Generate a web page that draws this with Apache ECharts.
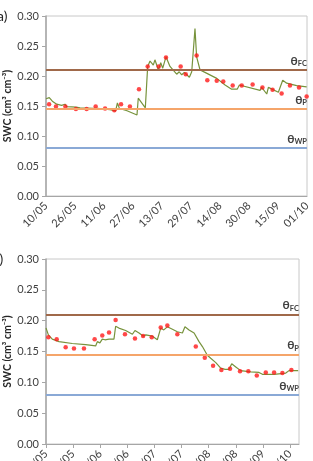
<!DOCTYPE html>
<html>
<head>
<meta charset="utf-8">
<title>SWC</title>
<script src="https://cdn.jsdelivr.net/npm/echarts@6.0.0/dist/echarts.min.js"></script>
<style>
  html, body { margin: 0; padding: 0; background: #fff; }
  #chart { width: 313px; height: 461px; }
</style>
</head>
<body>
<div id="chart"></div>
<script>
// tick labels, every 16 days from 10/05 (day 0)
var dateLabels = ['10/05', '26/05', '11/06', '27/06', '13/07', '29/07', '14/08', '30/08', '15/09', '01/10'];
var tickDays = [0, 16, 32, 48, 64, 80, 96, 112, 128, 144];

// thresholds
var thresholdValues = [0.21, 0.145, 0.08];
var thresholdNames = ['FC', 'P', 'WP'];
var thresholdColors = ['#a0694a', '#f5a56a', '#8aa9d6'];

// panel a) simulated SWC (day, value)
var simDaysA = [0, 1.8, 3.5, 5.9, 8.6, 10.5, 11.4, 16.6, 17.5, 18.8, 26.1, 27.2, 28.3, 35.3, 38.4, 39.4, 40.5, 44.7, 50.2,
  50.9, 54.8, 56.1, 57.4, 59.2, 60.1, 62, 63.3, 64.4, 66.2, 68.4, 72.1, 73.5, 74.9, 76.3, 79.1, 80.4, 81.3, 82.2, 83.1,
  85, 87.7, 94.2, 98.8, 102.4, 105.5, 106.7, 118.1, 119, 121.8, 122.7, 128.2, 130.6, 132.8, 138.3, 143.8];
var simValsA = [0.162, 0.164, 0.158, 0.153, 0.151, 0.153, 0.149, 0.148, 0.150, 0.147, 0.146, 0.149, 0.146, 0.144, 0.142, 0.155, 0.146, 0.142, 0.135,
  0.163, 0.147, 0.216, 0.225, 0.218, 0.227, 0.210, 0.222, 0.213, 0.232, 0.216, 0.203, 0.207, 0.202, 0.206, 0.198, 0.207, 0.208, 0.279, 0.232,
  0.210, 0.206, 0.196, 0.185, 0.178, 0.178, 0.185, 0.176, 0.181, 0.170, 0.181, 0.173, 0.193, 0.188, 0.184, 0.182];

// panel a) observed SWC
var obsDaysA = [1.7, 5.5, 10.7, 16.5, 22.4, 27.4, 32.6, 37.7, 41.4, 46.3, 51.3, 56.1, 62.2, 66.2, 74.3, 77.1, 83.1,
  89, 94.2, 97.8, 103, 108, 114, 119.4, 125, 130, 134.6, 139.6, 143.8];
var obsValsA = [0.153, 0.149, 0.149, 0.145, 0.145, 0.149, 0.146, 0.143, 0.153, 0.149, 0.178, 0.216, 0.216, 0.231, 0.216, 0.203, 0.234,
  0.193, 0.192, 0.191, 0.184, 0.184, 0.186, 0.181, 0.177, 0.171, 0.184, 0.181, 0.166];

// panel b) simulated SWC
var simDaysB = [0, 1.4, 3.7, 7.7, 15.5, 23.4, 29.3, 30.3, 31.8, 33.2, 34.8, 37.2, 40.1, 41.1, 43, 47, 51, 52.5, 54.9, 57.3, 58.9,
  62.7, 65.7, 67.7, 69.5, 71.6, 74.6, 77.5, 80.5, 82, 84.4, 87.4, 90.3, 92.3, 95.2, 97.2, 100.2, 103.1, 105.7, 108, 109.6,
  112, 114.9, 120.8, 125.7, 127.7, 134.6, 141.5, 143.4, 148.8];
var simValsB = [0.188, 0.177, 0.170, 0.166, 0.163, 0.161, 0.159, 0.166, 0.164, 0.170, 0.169, 0.170, 0.170, 0.191, 0.188, 0.184, 0.178, 0.184, 0.180, 0.175, 0.177,
  0.175, 0.169, 0.188, 0.185, 0.190, 0.186, 0.182, 0.180, 0.190, 0.185, 0.180, 0.166, 0.158, 0.144, 0.139, 0.132, 0.123, 0.121, 0.121, 0.130,
  0.125, 0.119, 0.117, 0.116, 0.113, 0.113, 0.115, 0.119, 0.119];

// panel b) observed SWC
var obsDaysB = [1.4, 6.3, 11.6, 16.5, 22.4, 28.7, 33.2, 37.2, 41.1, 46.6, 52.5, 57.3, 62.4, 67.7, 71.6, 77.5, 88.4,
  93.7, 98.6, 103.5, 108.6, 114.5, 119.4, 124.4, 129.7, 134.6, 139.5, 144.8];
var obsValsB = [0.173, 0.170, 0.157, 0.155, 0.155, 0.170, 0.176, 0.181, 0.201, 0.178, 0.171, 0.175, 0.173, 0.189, 0.192, 0.178, 0.158,
  0.140, 0.127, 0.120, 0.122, 0.118, 0.118, 0.111, 0.116, 0.116, 0.115, 0.120];

function pairs(xs, ys) {
  var out = [];
  for (var i = 0; i < xs.length; i++) out.push([xs[i], ys[i]]);
  return out;
}

var FONT = 'Lato, "Noto Sans", sans-serif';
var TXT = '#404040';

function thresholdLines() {
  var data = [];
  for (var i = 0; i < thresholdValues.length; i++) {
    data.push({
      yAxis: thresholdValues[i],
      lineStyle: { color: thresholdColors[i], width: 2, type: 'solid' },
      label: { formatter: '{t|θ}{s|' + thresholdNames[i] + '}' }
    });
  }
  return {
    silent: true,
    symbol: 'none',
    precision: 4,
    animation: false,
    label: {
      show: true,
      position: 'insideEndTop',
      distance: [0, 2],
      rich: {
        t: { fontFamily: FONT, fontWeight: 'bold', fontSize: 12, color: TXT, lineHeight: 14 },
        s: { fontFamily: FONT, fontWeight: 'bold', fontSize: 7.5, color: TXT, lineHeight: 14, padding: [6, 0, 0, 0] }
      }
    },
    data: data
  };
}

function xAxisDef(idx, max, ticks) {
  return {
    type: 'value', gridIndex: idx, min: 0, max: max,
    axisLine: { show: true, lineStyle: { color: '#a6a6a6', width: 1 } },
    axisTick: { show: ticks, length: 4, lineStyle: { color: '#a6a6a6' }, customValues: tickDays },
    splitLine: { show: false },
    axisLabel: {
      customValues: tickDays, rotate: 45, margin: 8, hideOverlap: false,
      fontFamily: FONT, fontSize: 11, color: TXT,
      formatter: function (v) { return dateLabels[tickDays.indexOf(v)]; }
    }
  };
}

function yAxisDef(idx) {
  return {
    type: 'value', gridIndex: idx, min: 0, max: 0.3, interval: 0.05,
    name: 'SWC (cm³ cm⁻³)', nameLocation: 'middle', nameGap: 33, nameMoveOverlap: false,
    nameTextStyle: { fontFamily: FONT, fontWeight: 'bold', fontSize: 10.5, color: '#262626' },
    axisLine: { show: true, lineStyle: { color: '#a6a6a6', width: 1.5 } },
    axisTick: { show: true, length: 4, lineStyle: { color: '#a6a6a6' } },
    splitLine: { show: false },
    axisLabel: {
      margin: 7, fontFamily: FONT, fontSize: 11, color: TXT,
      formatter: function (v) { return v.toFixed(2); }
    }
  };
}

var chart = echarts.init(document.getElementById('chart'), null, { renderer: 'canvas' });
chart.setOption({
  animation: false,
  backgroundColor: '#fff',
  graphic: [
    { type: 'text', left: -3, top: 9, style: { text: 'a)', font: '14px ' + FONT, fill: '#262626' } },
    { type: 'text', left: -8, top: 252, style: { text: 'b)', font: '14px ' + FONT, fill: '#262626' } }
  ],
  grid: [
    { left: 46, top: 16, width: 261, height: 180, show: true, borderColor: '#c8c8c8', borderWidth: 1,
      outerBoundsMode: 'none', containLabel: false },
    { left: 46, top: 259, width: 253, height: 185, show: true, borderColor: '#c8c8c8', borderWidth: 1,
      outerBoundsMode: 'none', containLabel: false }
  ],
  xAxis: [xAxisDef(0, 144, false), xAxisDef(1, 149.3, true)],
  yAxis: [yAxisDef(0), yAxisDef(1)],
  series: [
    {
      type: 'line', xAxisIndex: 0, yAxisIndex: 0, data: pairs(simDaysA, simValsA),
      symbol: 'none', lineStyle: { color: '#77933c', width: 1.2 }, z: 3,
      markLine: thresholdLines()
    },
    {
      type: 'scatter', xAxisIndex: 0, yAxisIndex: 0, data: pairs(obsDaysA, obsValsA),
      symbolSize: 4.5, itemStyle: { color: '#ff1a1a' }, z: 4
    },
    {
      type: 'line', xAxisIndex: 1, yAxisIndex: 1, data: pairs(simDaysB, simValsB),
      symbol: 'none', lineStyle: { color: '#77933c', width: 1.2 }, z: 3,
      markLine: thresholdLines()
    },
    {
      type: 'scatter', xAxisIndex: 1, yAxisIndex: 1, data: pairs(obsDaysB, obsValsB),
      symbolSize: 4.5, itemStyle: { color: '#ff1a1a' }, z: 4
    }
  ]
});
</script>
</body>
</html>
